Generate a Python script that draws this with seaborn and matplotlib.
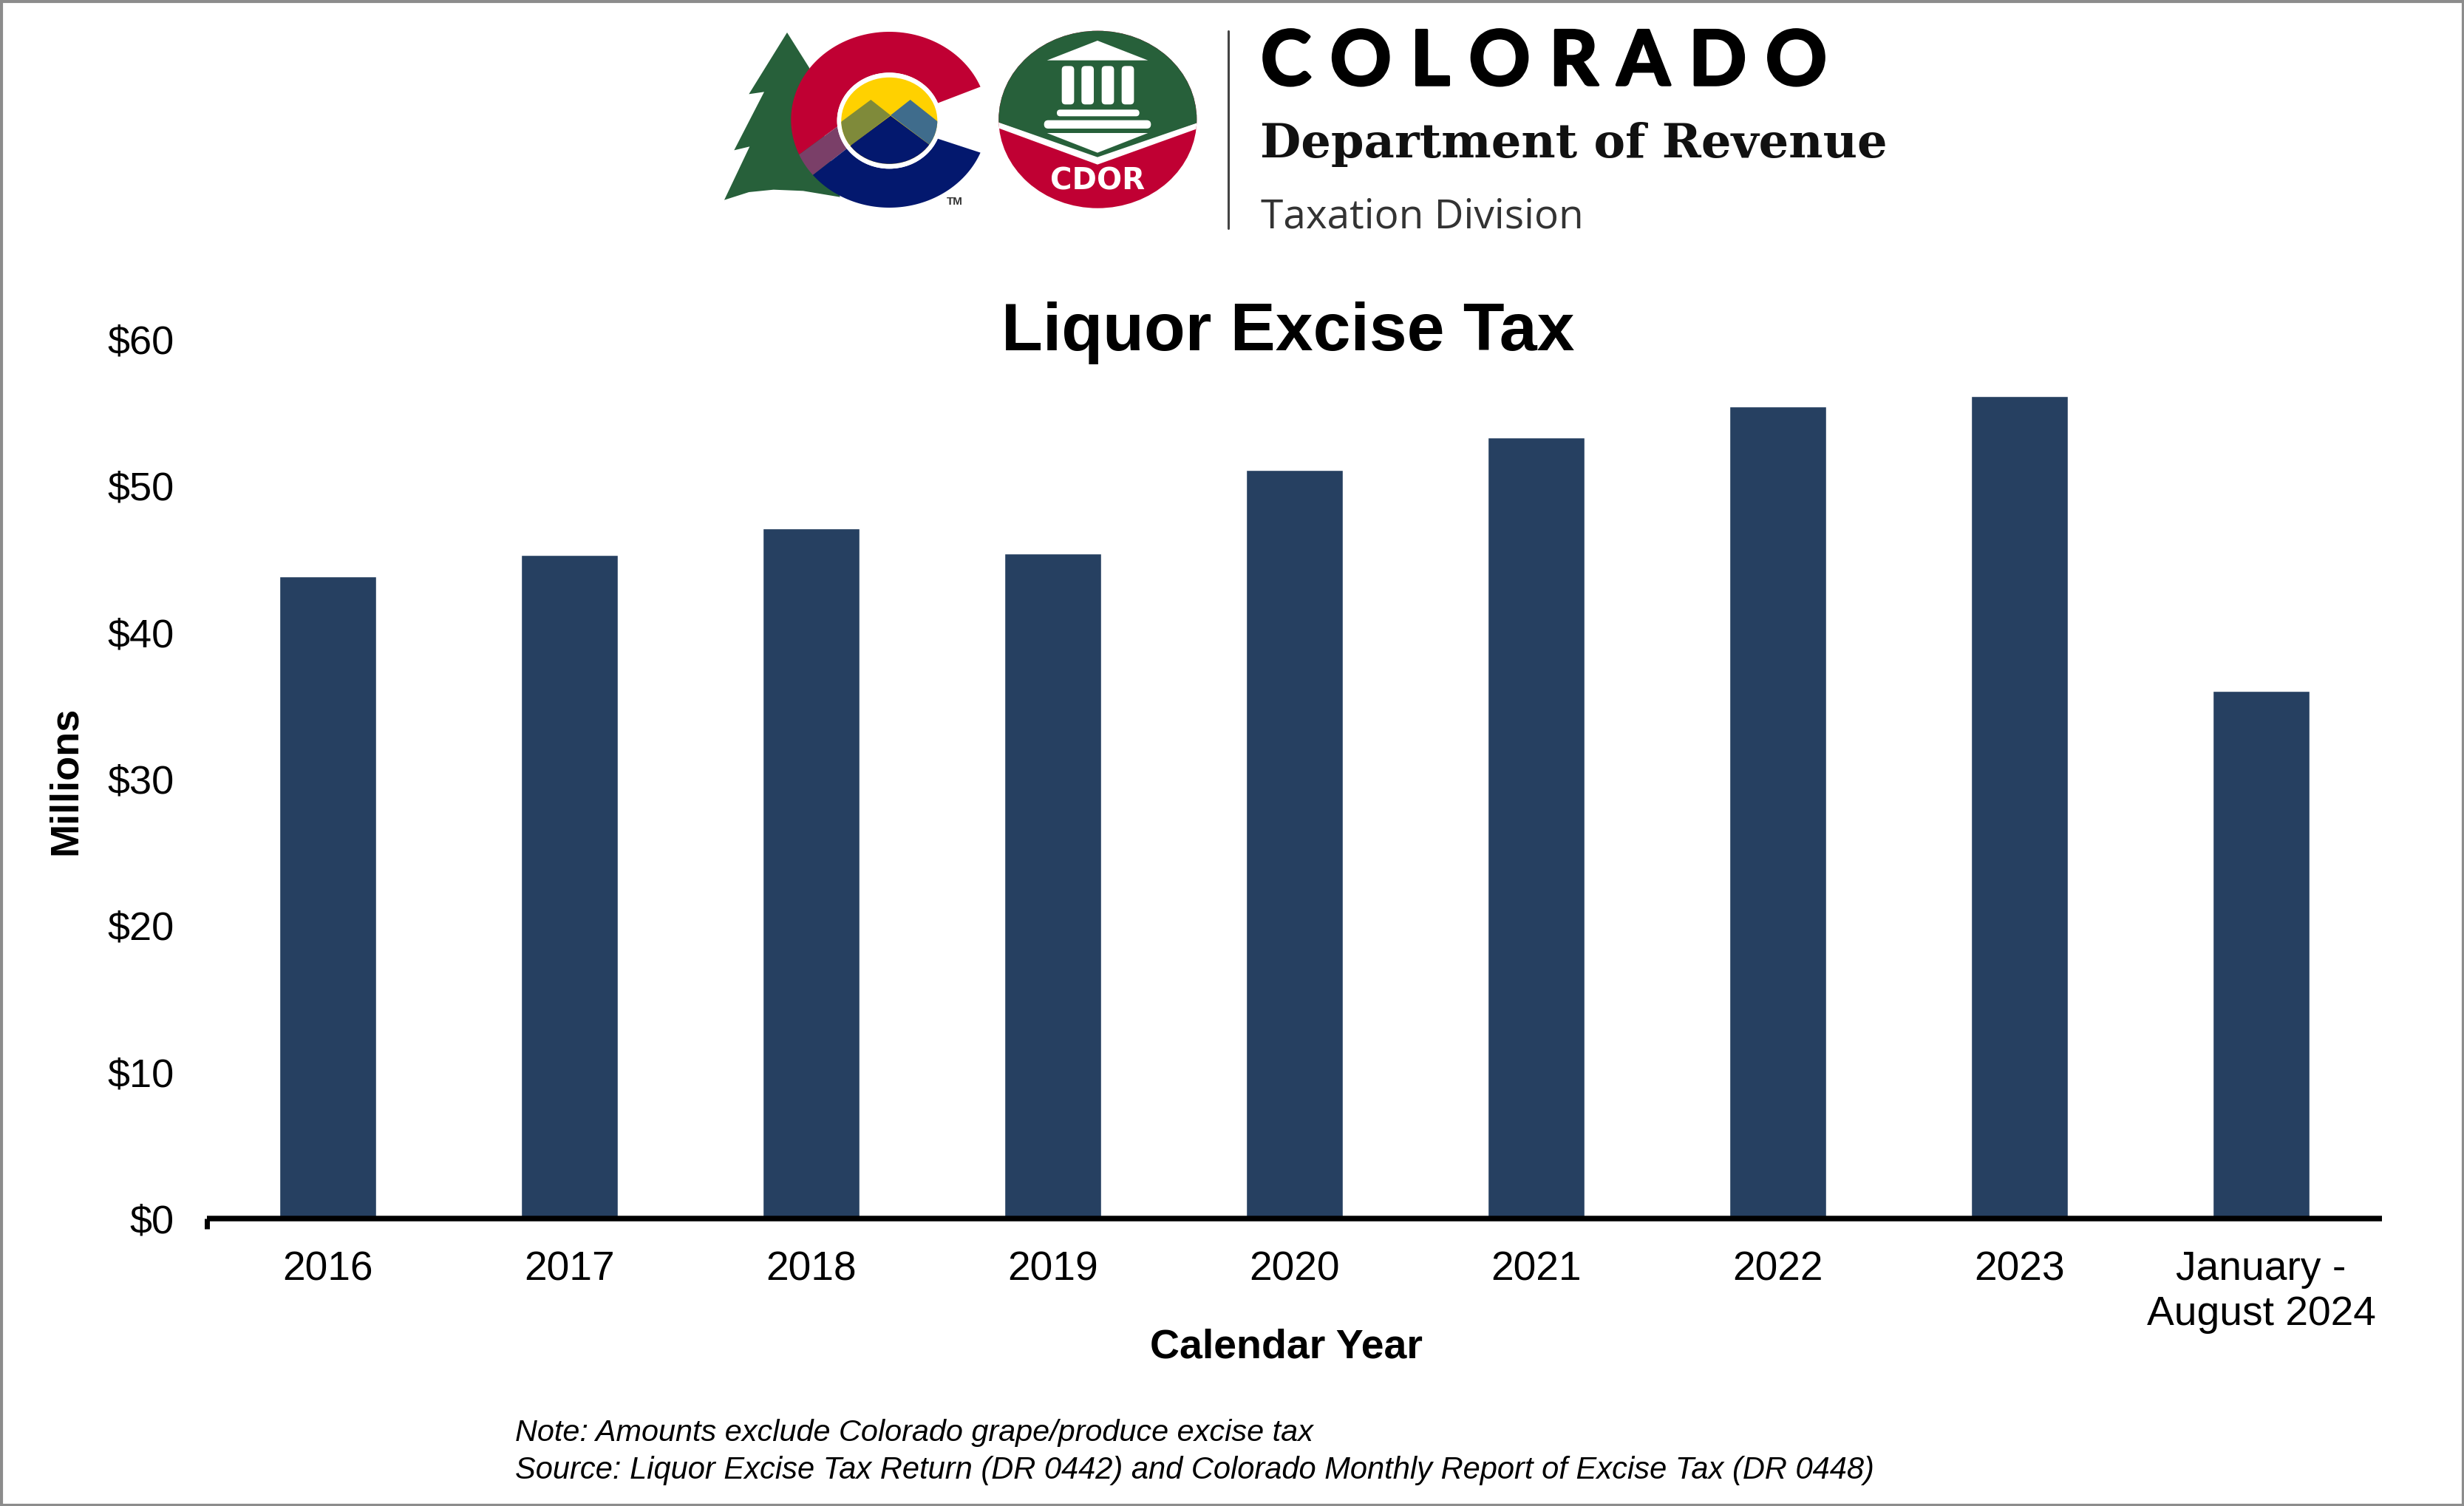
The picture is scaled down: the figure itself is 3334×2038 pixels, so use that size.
#!/usr/bin/env python3
import numpy as np
import pandas as pd
import seaborn as sns
import matplotlib.pyplot as plt
import matplotlib.patheffects as pe
from matplotlib.patches import Polygon, Ellipse, Rectangle, FancyBboxPatch

years = ['2016', '2017', '2018', '2019', '2020', '2021', '2022', '2023', 'January -\nAugust 2024']
tax_millions = [43.8, 45.3, 47.1, 45.4, 51.1, 53.3, 55.4, 56.1, 36.0]
yticks = [0, 10, 20, 30, 40, 50, 60]
ytick_labels = ['$0', '$10', '$20', '$30', '$40', '$50', '$60']

W, H = 3334, 2038
BAR = '#264061'
GREEN = '#27603A'
RED = '#C00033'
NAVY = '#03186E'
YELLOW = '#FFD100'

sns.set_theme(style='white')
plt.rcParams['font.family'] = ['Liberation Sans', 'DejaVu Sans']

fig = plt.figure(figsize=(W / 100, H / 100), dpi=100, facecolor='white')
ax = fig.add_axes([280 / W, 1 - 1649 / H, (3223 - 280) / W, (1649 - 459) / H])

df = pd.DataFrame({'year': years, 'tax': tax_millions})
sns.barplot(data=df, x='year', y='tax', color=BAR, saturation=1, width=0.4, ax=ax)

ax.set_xlim(-0.5, 8.5)
ax.set_ylim(0, 60)
ax.set_yticks(yticks, ytick_labels)
ax.tick_params(axis='y', length=0, pad=32, labelsize=39, labelcolor='black')
ax.tick_params(axis='x', length=10, width=5, color='black', pad=21, labelsize=39.7, labelcolor='black')
ax.set_xticks([-0.5], minor=True)
ax.tick_params(axis='x', which='minor', bottom=True, length=10, width=5, color='black')
for lab in ax.get_xticklabels():
    lab.set_linespacing(1.22)
sns.despine(ax=ax, left=True)
ax.spines['bottom'].set_linewidth(5.4)
ax.spines['bottom'].set_color('black')
ax.spines['bottom'].set_capstyle('butt')
ax.set_xlabel('')
ax.set_ylabel('')


# overlay in image pixels, y down, for everything outside the plot
ov = fig.add_axes([0, 0, 1, 1], facecolor='none')
ov.set_xlim(0, W)
ov.set_ylim(H, 0)
ov.axis('off')

ov.text(1743, 450, 'Liquor Excise Tax', fontsize=65.8, fontweight='bold', ha='center', va='center', color='black')
ov.text(1740, 1824, 'Calendar Year', fontsize=40, fontweight='bold', ha='center', va='center', color='black')
ov.text(89, 1056, 'Millions', fontsize=39, fontweight='bold', rotation=90, ha='center', va='center', color='black')
ov.text(697, 1939, 'Note: Amounts exclude Colorado grape/produce excise tax', fontsize=29.8, style='italic', va='center', color='black')
ov.text(697, 1990, 'Source: Liquor Excise Tax Return (DR 0442) and Colorado Monthly Report of Excise Tax (DR 0448)',
        fontsize=30, style='italic', va='center', color='black')

ov.add_patch(Rectangle((1.5, 1.5), W - 3, H - 3, fill=False, ec='#8C8C8C', lw=3))


def za(pts):
    return [(970 + px / 3, 30 + py / 3) for px, py in pts]


def zb(pts):
    return [(1340 + px / 3, 30 + py / 3) for px, py in pts]


def arc(cx, cy, rx, ry, a0, a1, n=80):
    t = np.radians(np.linspace(a0, a1, n))
    return list(zip(cx + rx * np.cos(t), cy - ry * np.sin(t)))


tree = za([(285, 42), (375, 185), (420, 400), (500, 710), (350, 685), (230, 680), (130, 690), (30, 722),
           (133, 505), (70, 520), (192, 283), (130, 292)])
ov.add_patch(Polygon(tree, fc=GREEN, ec='none', zorder=2))

cx, cy = 1203.3, 162
rx_out, ry_out = 133, 119
rx_in, ry_in = 70.7, 65
dy_in = 1.3
red_c = arc(cx, cy, rx_out, ry_out, 22, 203.4) + arc(cx, cy + dy_in, rx_in, ry_in, 187, 21.5)
band = arc(cx, cy, rx_out, ry_out, 203.4, 219) + arc(cx, cy + dy_in, rx_in, ry_in, 215.6, 187)
blue_c = arc(cx, cy, rx_out, ry_out, 219, 338) + arc(cx, cy + dy_in, rx_in, ry_in, 338, 215.6)
ov.add_patch(Polygon(red_c, fc=RED, ec='none', zorder=3))
ov.add_patch(Polygon(band, fc='#7A3F68', ec='none', zorder=3))
ov.add_patch(Polygon(blue_c, fc=NAVY, ec='none', zorder=3))

ov.add_patch(Ellipse((cx, cy + dy_in), 2 * rx_in, 2 * ry_in, fc='white', ec='none', zorder=4))
ov.add_patch(Ellipse((cx, cy + dy_in), 130, 117, fc=YELLOW, ec='none', zorder=4))
clip = Ellipse((cx, cy + dy_in), 130, 117, transform=ov.transData)
for pts, col in [(za([(625, 315), (705, 378), (545, 500), (470, 470), (470, 430)]), '#7F8A3A'),
                 (za([(785, 315), (930, 430), (930, 530), (860, 495), (705, 378)]), '#3F6C8C'),
                 (za([(705, 380), (450, 570), (450, 640), (960, 640), (960, 570)]), NAVY)]:
    p = Polygon(pts, fc=col, ec='none', zorder=5)
    ov.add_patch(p)
    p.set_clip_path(clip)
ov.text(1292, 273, 'TM', fontsize=11, fontweight='bold', ha='center', va='center', color='#333333')

# CDOR badge
bx, by = 1485.3, 161.7
ov.add_patch(Ellipse((bx, by), 268, 240, fc=RED, ec='none', zorder=2))
badge_clip = Ellipse((bx, by), 268, 240, transform=ov.transData)
stripe = Polygon(zb([(0, 395), (435, 540), (880, 395), (880, 418), (435, 578), (0, 418)]), fc='white', ec='none', zorder=3)
ov.add_patch(stripe)
stripe.set_clip_path(badge_clip)
green_top = Polygon(zb([(0, 0), (880, 0), (880, 395), (435, 548), (0, 395)]), fc=GREEN, ec='none', zorder=3)
ov.add_patch(green_top)
green_top.set_clip_path(badge_clip)
ov.add_patch(Polygon(zb([(435, 75), (640, 155), (230, 155)]), fc='white', ec='none', zorder=5))
ov.add_patch(Polygon(zb([(230, 450), (640, 450), (435, 530)]), fc='white', ec='none', zorder=5))
for col_x in [315, 395, 477, 558]:
    (x0, y0), = zb([(col_x - 25, 178)])
    ov.add_patch(FancyBboxPatch((x0 + 5, y0 + 5), 6.7, 42, boxstyle='round,pad=5,rounding_size=5', fc='white', ec='none', zorder=5))
for x0z, x1z, y0z, y1z in [(270, 605, 355, 382), (218, 652, 398, 432)]:
    (x0, y0), (x1, y1) = zb([(x0z, y0z), (x1z, y1z)])
    rad = (y1 - y0) / 2
    ov.add_patch(FancyBboxPatch((x0 + rad, y0 + rad), x1 - x0 - 2 * rad, 0.01,
                                boxstyle=f'round,pad={rad},rounding_size={rad}', fc='white', ec='none', zorder=5))
ov.text(1485, 245, 'CDOR', fontsize=29, fontweight='bold', family='DejaVu Sans', ha='center', va='center', color='white', zorder=6)

ov.plot([1662, 1662], [42, 309], color='#444444', lw=2.2, zorder=2)

ov.text(1706, 85, 'C\u2005O\u2005L\u2005O\u2005R\u2005A\u2005D\u2005O', fontsize=74, family=['Lato', 'DejaVu Sans'], fontweight='bold',
        va='center', color='black', path_effects=[pe.withStroke(linewidth=2.5, foreground='black')])
ov.text(1705, 195, 'Department of Revenue', fontsize=46, family='DejaVu Serif', fontweight='bold', va='center', color='#111111')
ov.text(1706, 294, 'Taxation Division', fontsize=39.6, family='Open Sans', va='center', color='#333333')

fig.savefig('out.png', dpi=100)
